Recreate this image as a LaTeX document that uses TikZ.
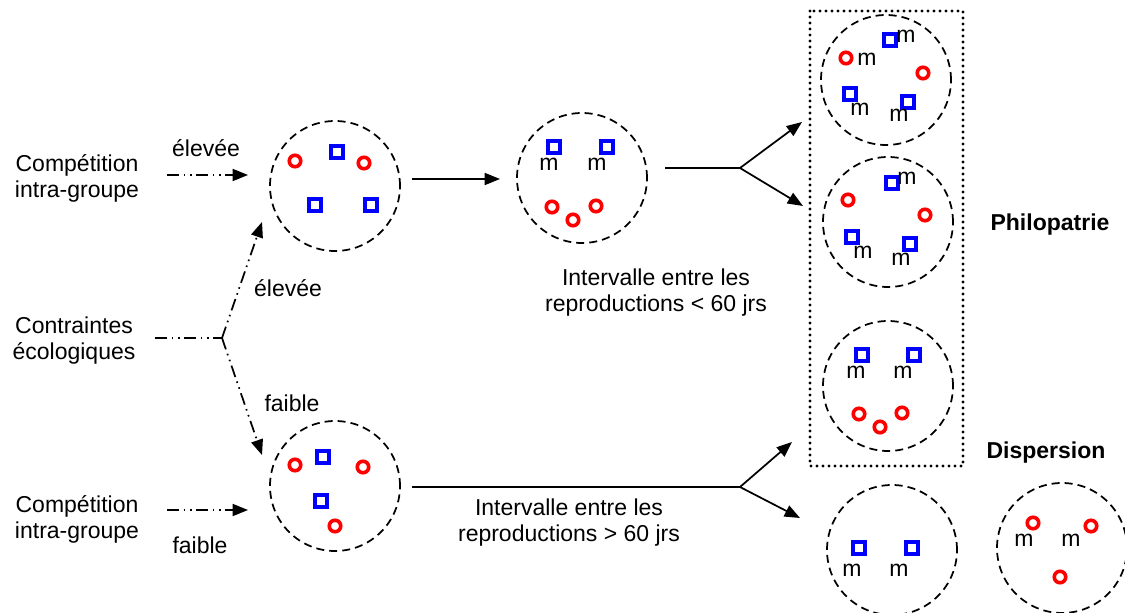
\documentclass[tikz,border=0pt]{standalone}
\usepackage{fontspec}
\setmainfont{Liberation Sans}
\usetikzlibrary{arrows.meta}
\tikzset{every picture/.style={line width=0.75pt}}

\begin{document}
\begin{tikzpicture}[x=0.75pt,y=0.75pt,yscale=-1,xscale=1,
	grp/.style={draw, circle, dash pattern={on 6pt off 3.8pt}, line width=1.3pt, minimum size=97.5pt, inner sep=0pt},
	fem/.style={draw=red, circle, line width=2.7pt, minimum size=8.6pt, inner sep=0pt},
	mal/.style={draw=blue, rectangle, line width=2.7pt, minimum size=9pt, inner sep=0pt},
	txt/.style={inner sep=0.75pt, font=\fontsize{17.25}{19.5}\selectfont, align=center},
	mk/.style={inner sep=0pt, font=\fontsize{17.25}{19.5}\selectfont},
	flow/.style={line width=1.3pt, -{Triangle[length=11.5pt,width=9pt]}},
	cond/.style={line width=1.3pt, dash pattern={on 9pt off 3.5pt on 1.2pt off 3.5pt on 1.2pt off 3.5pt}}
	]
	%set diagram size
	\useasboundingbox (0,0) rectangle (1125,613);
	
	%Dotted frame (philopatrie)
	\draw [line width=2.3pt, line cap=round, dash pattern={on 0pt off 4.5pt}] (810,11) rectangle (963,466) ;
	
	%Groups
	\node [grp] (g1) at (335,186) {};
	\node [grp] (g2) at (582,178) {};
	\node [grp] (g3) at (335,486) {};
	\node [grp] (p1) at (886,80) {};
	\node [grp] (p2) at (888,222) {};
	\node [grp] (p3) at (888,386) {};
	\node [grp] (d1) at (892,550) {};
	\node [grp] (d2) at (1062,548) {};
	
	%Group g1
	\node [fem] (g1f1) at (295,161) {};
	\node [fem] (g1f2) at (364,163) {};
	\node [mal] (g1m1) at (337,152) {};
	\node [mal] (g1m2) at (315,205) {};
	\node [mal] (g1m3) at (371,205) {};
	
	%Group g2
	\node [mal] (g2m1) at (554,147) {};
	\node [mal] (g2m2) at (607,147) {};
	\node [mk] (g2t1) at (549,164) {m};
	\node [mk] (g2t2) at (597,164) {m};
	\node [fem] (g2f1) at (552,207) {};
	\node [fem] (g2f2) at (573,220) {};
	\node [fem] (g2f3) at (596,206) {};
	
	%Group g3
	\node [fem] (g3f1) at (295,465) {};
	\node [fem] (g3f2) at (363,467) {};
	\node [fem] (g3f3) at (335,526) {};
	\node [mal] (g3m1) at (323,457) {};
	\node [mal] (g3m2) at (321,501) {};
	
	%Group p1
	\node [mal] (p1m1) at (890,40) {};
	\node [mk] (p1t1) at (906,36) {m};
	\node [fem] (p1f1) at (846,58) {};
	\node [mk] (p1t2) at (867,59) {m};
	\node [fem] (p1f2) at (923,73) {};
	\node [mal] (p1m2) at (850,94) {};
	\node [mk] (p1t3) at (860,109) {m};
	\node [mal] (p1m3) at (908,102) {};
	\node [mk] (p1t4) at (899,115) {m};
	
	%Group p2
	\node [mal] (p2m1) at (892,183) {};
	\node [mk] (p2t1) at (907,178) {m};
	\node [fem] (p2f1) at (848,200) {};
	\node [fem] (p2f2) at (925,215) {};
	\node [mal] (p2m2) at (852,237) {};
	\node [mk] (p2t2) at (863,252) {m};
	\node [mal] (p2m3) at (910,244) {};
	\node [mk] (p2t3) at (901,259) {m};
	
	%Group p3
	\node [mal] (p3m1) at (862,355) {};
	\node [mal] (p3m2) at (914,355) {};
	\node [mk] (p3t1) at (856,372) {m};
	\node [mk] (p3t2) at (903,372) {m};
	\node [fem] (p3f1) at (859,414) {};
	\node [fem] (p3f2) at (880,427) {};
	\node [fem] (p3f3) at (902,413) {};
	
	%Group d1
	\node [mal] (d1m1) at (859,548) {};
	\node [mal] (d1m2) at (912,548) {};
	\node [mk] (d1t1) at (852,570) {m};
	\node [mk] (d1t2) at (899,570) {m};
	
	%Group d2
	\node [fem] (d2f1) at (1033,523) {};
	\node [fem] (d2f2) at (1091,526) {};
	\node [fem] (d2f3) at (1060,577) {};
	\node [mk] (d2t1) at (1024,540) {m};
	\node [mk] (d2t2) at (1071,540) {m};
	
	% Text Node
	\node [txt] (comp1) at (77,178) {Compétition\\intra-groupe};
	% Text Node
	\node [txt] (contr) at (74,341) {Contraintes\\écologiques};
	% Text Node
	\node [txt] (comp2) at (77,519) {Compétition\\intra-groupe};
	% Text Node
	\node [txt] (hi1) at (206,148) {élevée};
	% Text Node
	\node [txt] (hi2) at (288,288) {élevée};
	% Text Node
	\node [txt] (lo2) at (292,403) {faible};
	% Text Node
	\node [txt] (lo1) at (200,545) {faible};
	% Text Node
	\node [txt] (int1) at (656,293) {Intervalle entre les\\reproductions < 60 jrs};
	% Text Node
	\node [txt] (int2) at (569,523) {Intervalle entre les\\reproductions > 60 jrs};
	% Text Node
	\node [txt, anchor=base, font=\fontsize{17.25}{19.5}\selectfont\bfseries] (philo) at (1050,230) {Philopatrie};
	% Text Node
	\node [txt, anchor=base, font=\fontsize{17.25}{19.5}\selectfont\bfseries] (disp) at (1046,458) {Dispersion};
	
	%Connector ends
	\coordinate (c1s) at (167,175);
	\coordinate (c1e) at (248,175);
	\coordinate (c2s) at (167,510);
	\coordinate (c2e) at (248,510);
	\coordinate (ks) at (155,338);
	\coordinate (kj) at (222,338);
	\coordinate (kup) at (262,222);
	\coordinate (kdn) at (262,455);
	\coordinate (a1s) at (412,179);
	\coordinate (a1e) at (500,179);
	\coordinate (b1s) at (665,168);
	\coordinate (b1j) at (740,168);
	\coordinate (b1u) at (802,122);
	\coordinate (b1d) at (803,206);
	\coordinate (b2s) at (412,487);
	\coordinate (b2j) at (740,487);
	\coordinate (b2u) at (792,442);
	\coordinate (b2d) at (800,518);
	
	%Dash-dot connectors
	\draw [cond, -{Triangle[length=11.5pt,width=9pt]}] (c1s) -- (c1e) ;
	\draw [cond, -{Triangle[length=11.5pt,width=9pt]}] (c2s) -- (c2e) ;
	\draw [cond] (ks) -- (kj) ;
	\draw [cond, -{Triangle[length=11.5pt,width=9pt]}] (kj) -- (kup) ;
	\draw [cond, -{Triangle[length=11.5pt,width=9pt]}] (kj) -- (kdn) ;
	
	%Solid connectors
	\draw [flow] (a1s) -- (a1e) ;
	\draw [line width=1.3pt] (b1s) -- (b1j) ;
	\draw [flow] (b1j) -- (b1u) ;
	\draw [flow] (b1j) -- (b1d) ;
	\draw [line width=1.3pt] (b2s) -- (b2j) ;
	\draw [flow] (b2j) -- (b2u) ;
	\draw [flow] (b2j) -- (b2d) ;
	
\end{tikzpicture}
\end{document}
